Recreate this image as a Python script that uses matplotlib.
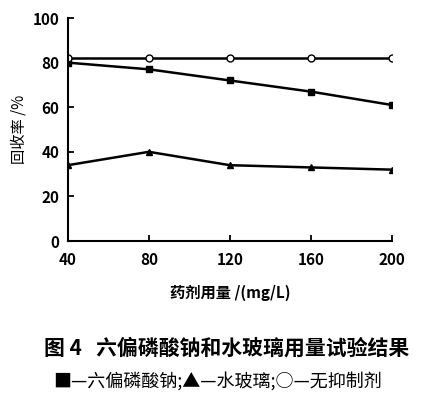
import matplotlib
matplotlib.use('Agg')
import matplotlib.pyplot as plt

plt.rcParams['font.family'] = ['Noto Sans CJK SC', 'DejaVu Sans']

dose = [40, 80, 120, 160, 200]
hexa = [80, 77, 72, 67, 61]
glass = [34, 40, 34, 33, 32]
none_ = [82, 82, 82, 82, 82]

fig = plt.figure(figsize=(4.35, 4.01), dpi=100)
ax = fig.add_axes([0.156, 0.399, 0.745, 0.556])
ax.plot(dose, hexa, 'k-s', ms=4.5, lw=1.8)
ax.plot(dose, glass, 'k-^', ms=5, lw=1.8)
ax.plot(dose, none_, 'k-o', ms=5, lw=1.8, mfc='white')
ax.set_xlim(40, 200)
ax.set_ylim(0, 100)
ax.set_xticks(dose)
ax.set_yticks(range(0, 101, 20))
for s in ['top', 'right']:
    ax.spines[s].set_visible(False)
for s in ['left', 'bottom']:
    ax.spines[s].set_linewidth(1.5)
ax.tick_params(direction='in', width=1.3, length=4, labelsize=11)
ax.tick_params(axis='x', pad=8)
ax.tick_params(axis='y', pad=6)
for t in ax.get_xticklabels() + ax.get_yticklabels():
    t.set_fontweight('bold')
ax.set_ylabel('回收率 /%', fontsize=11)
ax.set_xlabel('药剂用量 /(mg/L)', fontsize=11, labelpad=12, fontweight='bold')

fig.text(0.52, 0.115, '图 4   六偏磷酸钠和水玻璃用量试验结果', ha='center', fontsize=15, fontweight='bold')
fig.text(0.5, 0.035, '■—六偏磷酸钠;▲—水玻璃;○—无抑制剂', ha='center', fontsize=13)

fig.savefig('out.png', dpi=100)
